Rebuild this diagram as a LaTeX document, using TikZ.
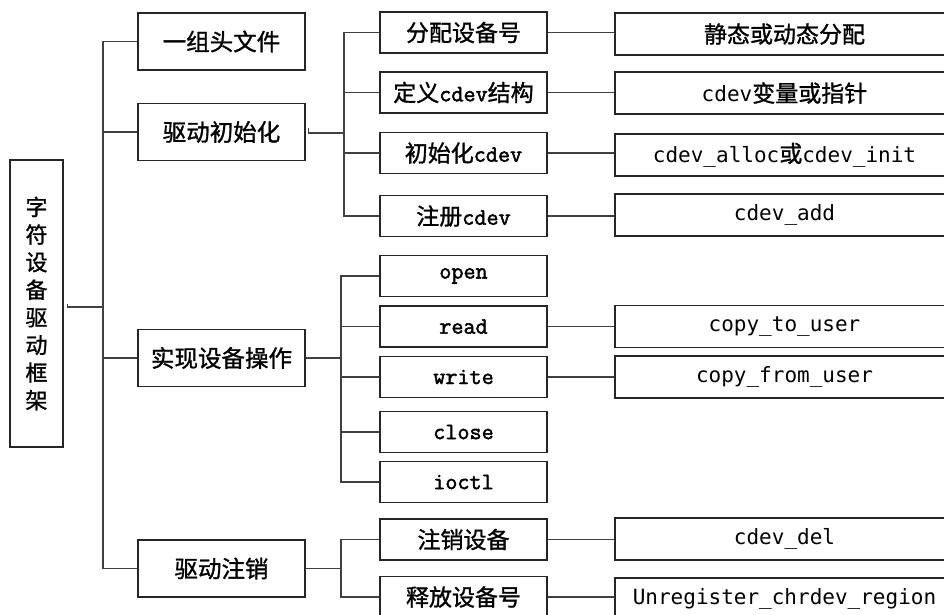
\documentclass[tikz,border=0pt]{standalone}
\usepackage{fontspec}
\usetikzlibrary{calc}
\newfontfamily\cjk{Noto Sans CJK SC}[FakeBold=1.2]
\newfontfamily\serifmono{Latin Modern Mono}[FakeBold=2]
\newfontfamily\sansmono{DejaVu Sans Mono}
% Latin code words inside the second-level boxes
\newcommand\codeword[1]{{\fontsize{23.5}{25}\serifmono #1}}
% Chinese words inside the third-level boxes
\newcommand\hanzi[1]{{\fontsize{23}{25}\cjk #1}}

\begin{document}
\begin{tikzpicture}[x=1pt,y=-1pt,
  box/.style={draw=black!85, line width=1.2pt, inner sep=0pt, align=center},
  rootbox/.style={box, minimum width=53pt, minimum height=287pt,
    font=\fontsize{22}{27.6}\cjk},
  lvone/.style={box, minimum width=167pt, minimum height=57pt,
    font=\fontsize{23.5}{27}\cjk},
  lvtwo/.style={box, minimum width=167pt, minimum height=41pt,
    font=\fontsize{23}{27}\cjk},
  lvthree/.style={box, minimum width=339pt, minimum height=42pt,
    font=\fontsize{21}{25}\sansmono},
  link/.style={draw=black!75, line width=1.2pt}
]
\clip (0,0) rectangle (944,614);

% root
\node[rootbox] (root) at (36.5,303.5) {字\\符\\设\\备\\驱\\动\\框\\架};

% first level
\node[lvone] (h1) at (221.5,41.5) {一组头文件};
\node[lvone] (h2) at (221.5,132) {驱动初始化};
\node[lvone] (h3) at (221.5,358) {实现设备操作};
\node[lvone] (h4) at (221.5,568.5) {驱动注销};

% second level: initialisation
\node[lvtwo] (a1) at (463.5,32.5) {分配设备号};
\node[lvtwo] (a2) at (463.5,92.5) {定义\codeword{cdev}结构};
\node[lvtwo] (a3) at (463.5,153) {初始化\codeword{cdev}};
\node[lvtwo] (a4) at (463.5,216) {注册\codeword{cdev}};

% second level: file operations
\node[lvtwo] (o1) at (463.5,276) {\codeword{open}};
\node[lvtwo] (o2) at (463.5,326.5) {\codeword{read}};
\node[lvtwo] (o3) at (463.5,377) {\codeword{write}};
\node[lvtwo] (o4) at (463.5,432) {\codeword{close}};
\node[lvtwo] (o5) at (463.5,482) {\codeword{ioctl}};

% second level: unregistration
\node[lvtwo] (u1) at (463.5,539.5) {注销设备};
\node[lvtwo] (u2) at (463.5,597) {释放设备号};

% third level
\node[lvthree] (b1) at (784.5,34) {\hanzi{静态或动态分配}};
\node[lvthree] (b2) at (784.5,93) {cdev\hanzi{变量或指针}};
\node[lvthree] (b3) at (784.5,155) {cdev\_alloc\hanzi{或}cdev\_init};
\node[lvthree] (b4) at (784.5,215) {cdev\_add};
\node[lvthree] (c2) at (784.5,326.5) {copy\_to\_user};
\node[lvthree] (c3) at (784.5,377) {copy\_from\_user};
\node[lvthree] (d1) at (784.5,539) {cdev\_del};
\node[lvthree] (d2) at (784.5,599) {Unregister\_chrdev\_region};

% main trunk
\coordinate (jA) at (103,307);
\draw[link] ($(root.east)+(4,0)$) |- (jA);
\draw[link] (h1.west) -| (jA) |- (h4.west);
\draw[link] (h2.west) -- (h2.west -| jA);
\draw[link] (h3.west) -- (h3.west -| jA);

% initialisation branch
\coordinate (jB) at (344,133);
\draw[link] ($(h2.east)+(3,-4)$) |- (jB);
\draw[link] (a1.west) -| (jB) |- (a4.west);
\draw[link] (a2.west) -- (a2.west -| jB);
\draw[link] (a3.west) -- (a3.west -| jB);

% file operations branch
\coordinate (jC) at (341,358);
\draw[link] (h3.east) -- (jC);
\draw[link] (o1.west) -| (jC) |- (o5.west);
\draw[link] (o2.west) -- (o2.west -| jC);
\draw[link] (o3.west) -- (o3.west -| jC);
\draw[link] (o4.west) -- (o4.west -| jC);

% unregistration branch
\coordinate (jD) at (341,568.5);
\draw[link] (h4.east) -- (jD);
\draw[link] (u1.west) -| (jD) |- (u2.west);

% second to third level
\draw[link] (a1.east) -- (b1.west |- a1.east);
\draw[link] (a2.east) -- (b2.west |- a2.east);
\draw[link] (a3.east) -- (b3.west |- a3.east);
\draw[link] (a4.east) -- (b4.west |- a4.east);
\draw[link] (o2.east) -- (c2.west |- o2.east);
\draw[link] (o3.east) -- (c3.west |- o3.east);
\draw[link] (u1.east) -- (d1.west |- u1.east);
\draw[link] (u2.east) -- (d2.west |- u2.east);
\end{tikzpicture}
\end{document}
